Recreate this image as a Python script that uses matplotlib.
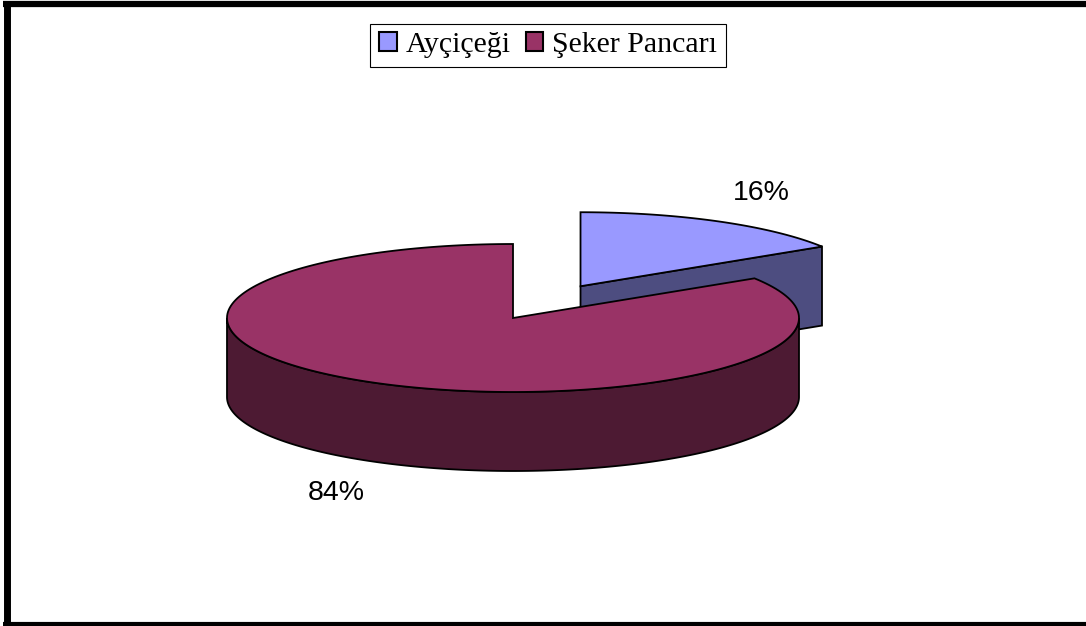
import numpy as np
import matplotlib.pyplot as plt
from matplotlib.patches import Polygon, Patch

# Data
crops = ["Ayçiçeği", "Şeker Pancarı"]
shares = [16, 84]
explode = [0.49, 0.0]

top_colors = ["#9999FF", "#993366"]
side_colors = ["#4D4D80", "#4D1A33"]

# pie geometry (pixels)
cx, cy = 513, 318
rx, ry = 286, 74
depth = 79

fig = plt.figure(figsize=(10.86, 6.26), dpi=100)
ax = fig.add_axes([0, 0, 1, 1])
ax.set_xlim(0, 1086)
ax.set_ylim(626, 0)
ax.axis("off")


def rim(x0, y0, a1, a2, n=200):
    a = np.radians(np.linspace(a1, a2, n))
    return np.column_stack([x0 + rx * np.cos(a), y0 - ry * np.sin(a)])


def draw_slice(x0, y0, t1, t2, top, side):
    # radial walls
    for a, sign in [(t1, -1), (t2, 1)]:
        c = np.cos(np.radians(a))
        if sign * c > 1e-6:
            p = rim(x0, y0, a, a, 1)[0]
            quad = [(x0, y0), tuple(p), (p[0], p[1] + depth), (x0, y0 + depth)]
            ax.add_patch(Polygon(quad, closed=True, fc=side, ec="black", lw=1.3))
    # outer wall, front half only
    for k in range(-2, 2):
        lo = max(t2, -180 + 360 * k)
        hi = min(t1, 0 + 360 * k)
        if hi > lo:
            upper = rim(x0, y0, hi, lo)
            lower = rim(x0, y0 + depth, lo, hi)
            ax.add_patch(Polygon(np.vstack([upper, lower]), closed=True,
                                 fc=side, ec="black", lw=1.3))
    # top face
    pts = np.vstack([[[x0, y0]], rim(x0, y0, t1, t2)])
    ax.add_patch(Polygon(pts, closed=True, fc=top, ec="black", lw=1.3))


start = 90.0
for i, v in enumerate(shares):
    t1 = start
    t2 = start - v * 3.6
    mid = np.radians((t1 + t2) / 2)
    x0 = cx + explode[i] * rx * np.cos(mid)
    y0 = cy - explode[i] * ry * np.sin(mid)
    draw_slice(x0, y0, t1, t2, top_colors[i], side_colors[i])
    start = t2

# percentage labels
label_pos = [(761, 193), (336, 493)]
for (lx, ly), v in zip(label_pos, shares):
    ax.text(lx, ly, f"{v}%", ha="center", va="center", fontsize=20.5,
            family="Liberation Sans")

# legend
handles = [Patch(fc=c, ec="black", lw=1.5) for c in top_colors]
leg = fig.legend(handles, crops, loc="upper center", ncol=2,
                 bbox_to_anchor=(0.5046, 0.962),
                 prop={"family": "Liberation Serif", "size": 21.5},
                 frameon=True, fancybox=False, framealpha=1, edgecolor="black",
                 handlelength=0.6, handleheight=0.6, handletextpad=0.3,
                 columnspacing=0.5, borderpad=0.28, borderaxespad=0)
leg.get_frame().set_linewidth(0.8)

# chart border
ax.plot([3, 1086], [3.5, 3.5], color="black", lw=4.5, solid_capstyle="butt", clip_on=False)
ax.plot([6.5, 6.5], [0.5, 626], color="black", lw=5, solid_capstyle="butt", clip_on=False)
ax.plot([3, 1086], [624, 624], color="black", lw=3, solid_capstyle="butt", clip_on=False)

fig.savefig("out.png", dpi=100)
